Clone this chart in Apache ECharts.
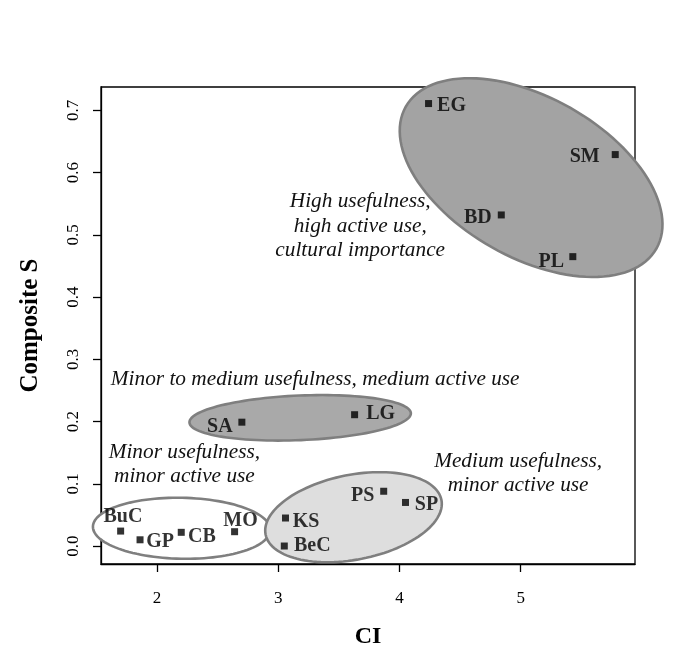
<!DOCTYPE html>
<html>
<head>
<meta charset="utf-8">
<script src="https://cdn.jsdelivr.net/npm/echarts@6/dist/echarts.min.js"></script>
<style>
  html, body { margin: 0; padding: 0; background: #ffffff; }
  #chart { width: 677px; height: 655px; }
</style>
</head>
<body>
<div id="chart"></div>
<script>
// ---------- data ----------
const names = ['EG', 'SM', 'BD', 'PL', 'LG', 'SA', 'PS', 'SP', 'KS', 'BeC', 'BuC', 'GP', 'CB', 'MO'];
const ciValues = [4.24, 5.78, 4.84, 5.43, 3.63, 2.70, 3.87, 4.05, 3.06, 3.05, 1.70, 1.86, 2.20, 2.64];
const compositeS = [0.711, 0.629, 0.532, 0.465, 0.211, 0.199, 0.088, 0.070, 0.045, 0.000, 0.024, 0.010, 0.022, 0.023];
const xTicks = [2, 3, 4, 5];
const yTicks = [0.0, 0.1, 0.2, 0.3, 0.4, 0.5, 0.6, 0.7];
const groupCentersX = [5.086, 3.181, 2.203, 3.621];
const groupCentersY = [0.592, 0.206, 0.0285, 0.0463];
const noteTexts = [
  'High usefulness,\nhigh active use,\ncultural importance',
  'Minor to medium usefulness, medium active use',
  'Minor usefulness,\nminor active use',
  'Medium usefulness,\nminor active use'
];
const noteX = [3.676, 3.305, 2.226, 4.979];
const noteY = [0.5137, 0.2677, 0.131, 0.1166];

// ---------- styling (not data) ----------
const FONT = 'Liberation Serif, Times New Roman, serif';
const labelOffsets = {
  EG: [23, 2.5], SM: [-30.5, 2.5], BD: [-23.5, 2.5], PL: [-21.5, 5.5],
  LG: [26, -1], SA: [-22, 5], PS: [-21, 4.3], SP: [21, 2.7],
  KS: [20.6, 4.2], BeC: [28, 0], BuC: [2.3, -14], GP: [20, 2.4],
  CB: [20.7, 5], MO: [6, -11.3]
};
// ellipse shapes in screen pixels: semi-axes a, b and tilt (deg, clockwise on screen)
const ellipseShapes = [
  { a: 144, b: 80, angle: 29.5, fill: '#a3a3a3' },
  { a: 110.8, b: 22.3, angle: -2.4, fill: '#a9a9a9' },
  { a: 88.7, b: 30.5, angle: 1.1, fill: '#ffffff' },
  { a: 89.6, b: 42.4, angle: -11.1, fill: '#dedede' }
];

const xMin = 1.538, xMax = 5.943, yMin = -0.0289, yMax = 0.7376;

const pointData = names.map((n, i) => ({
  name: n,
  value: [ciValues[i], compositeS[i]],
  label: { offset: labelOffsets[n] }
}));

const chart = echarts.init(document.getElementById('chart'), null, { renderer: 'canvas' });

const option = {
  backgroundColor: '#ffffff',
  animation: false,
  grid: {
    left: 101, right: 42, top: 87, bottom: 91,
    show: true, borderColor: '#000000', borderWidth: 1.3,
    containLabel: false, outerBoundsMode: 'none'
  },
  xAxis: {
    type: 'value', min: xMin, max: xMax,
    name: 'CI', nameLocation: 'middle', nameGap: 61,
    nameTextStyle: { fontFamily: FONT, fontWeight: 'bold', fontSize: 24, color: '#000' },
    axisLine: { show: true, onZero: false, lineStyle: { color: '#000', width: 1.3 } },
    axisTick: { show: true, inside: false, length: 8, lineStyle: { color: '#000', width: 1.3 }, customValues: xTicks },
    axisLabel: { show: true, margin: 26, fontFamily: FONT, fontSize: 17, color: '#000', customValues: xTicks,
      formatter: v => String(v) },
    splitLine: { show: false }
  },
  yAxis: {
    type: 'value', min: yMin, max: yMax,
    name: 'Composite S', nameLocation: 'middle', nameGap: 58,
    nameTextStyle: { fontFamily: FONT, fontWeight: 'bold', fontSize: 25, color: '#000' },
    axisLine: { show: true, onZero: false, lineStyle: { color: '#000', width: 1.3 } },
    axisTick: { show: true, inside: false, length: 8, lineStyle: { color: '#000', width: 1.3 }, customValues: yTicks },
    axisLabel: { show: true, rotate: 90, margin: 19, fontFamily: FONT, fontSize: 17, color: '#000', customValues: yTicks,
      formatter: v => Number(v).toFixed(1) },
    splitLine: { show: false }
  },
  series: [
    {
      type: 'custom',
      name: 'groups',
      clip: false,
      silent: true,
      z: 1,
      data: groupCentersX.map((x, i) => [x, groupCentersY[i]]),
      encode: { x: 0, y: 1 },
      renderItem: function (params, api) {
        const e = ellipseShapes[params.dataIndex];
        const c = api.coord([api.value(0), api.value(1)]);
        const th = e.angle * Math.PI / 180;
        const pts = [];
        for (let k = 0; k < 120; k++) {
          const t = 2 * Math.PI * k / 120;
          const ex = e.a * Math.cos(t), ey = e.b * Math.sin(t);
          pts.push([c[0] + ex * Math.cos(th) - ey * Math.sin(th), c[1] + ex * Math.sin(th) + ey * Math.cos(th)]);
        }
        return {
          type: 'polygon',
          shape: { points: pts },
          style: { fill: e.fill, stroke: '#7f7f7f', lineWidth: 2.6 }
        };
      }
    },
    {
      type: 'custom',
      name: 'notes',
      clip: false,
      silent: true,
      z: 2,
      data: noteX.map((x, i) => [x, noteY[i]]),
      encode: { x: 0, y: 1 },
      renderItem: function (params, api) {
        const c = api.coord([api.value(0), api.value(1)]);
        return {
          type: 'text',
          x: c[0], y: c[1],
          style: {
            text: noteTexts[params.dataIndex],
            fontFamily: FONT, fontStyle: 'italic', fontSize: 21.3, lineHeight: 24.5,
            fill: '#111111', align: 'center', verticalAlign: 'middle'
          }
        };
      }
    },
    {
      type: 'scatter',
      name: 'points',
      z: 3,
      symbol: 'rect',
      symbolSize: 7,
      itemStyle: { color: '#000000' },
      label: {
        show: true, position: 'inside',
        formatter: p => p.name,
        fontFamily: FONT, fontWeight: 'bold', fontSize: 20, color: '#000'
      },
      data: pointData
    }
  ]
};
chart.setOption(option);
</script>
</body>
</html>
